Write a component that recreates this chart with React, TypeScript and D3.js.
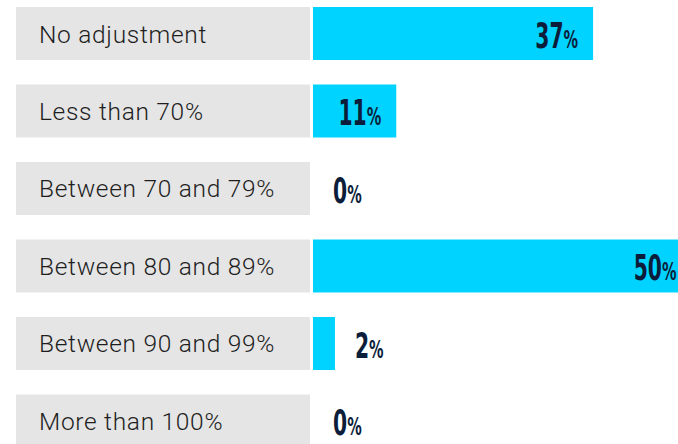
import React from 'react';
import * as d3 from 'd3';

const categories = [
  'No adjustment',
  'Less than 70%',
  'Between 70 and 79%',
  'Between 80 and 89%',
  'Between 90 and 99%',
  'More than 100%',
];
const values = [37, 11, 0, 50, 2.9, 0];
const valueLabels = ['37', '11', '0', '50', '2', '0'];

const W = 678;
const H = 444;

export default function App() {
  const y = d3
    .scaleBand()
    .domain(categories)
    .range([7, 447.5])
    .paddingInner(0.316)
    .paddingOuter(0);

  const x = d3.scaleLinear().domain([0, 50]).range([313, 691.5]);

  // no condensed bold font around, so squeeze DejaVu bold sideways
  const squeeze = 0.58;

  return (
    <div>
      <style>{`body{margin:0}`}</style>
      <svg width={W} height={H} style={{ display: 'block' }}>
        {categories.map((c, i) => {
          const top = y(c) as number;
          const bw = y.bandwidth();
          const end = x(values[i]);
          const inside = end - x(0) > 60;
          const lx = inside ? end - 15 : end + 20;
          return (
            <g key={c}>
              <rect x={16} y={top} width={294} height={bw} fill="#e5e5e5" />
              <text
                x={39}
                y={top + 35.5}
                fontFamily="Roboto, 'Liberation Sans', sans-serif"
                fontWeight={300}
                fontSize={24.5}
                letterSpacing={0.7}
                fill="#1e1e1e"
              >
                {c}
              </text>
              {values[i] > 0 && (
                <rect x={x(0)} y={top} width={end - x(0)} height={bw} fill="#00d3ff" />
              )}
              <text
                transform={`translate(${lx},${top + 40.7}) scale(${squeeze},1)`}
                textAnchor={inside ? 'end' : 'start'}
                fontFamily="'DejaVu Sans', sans-serif"
                fontWeight={700}
                fill="#0b1d3a"
              >
                <tspan fontSize={35}>{valueLabels[i]}</tspan>
                <tspan fontSize={25}>%</tspan>
              </text>
            </g>
          );
        })}
      </svg>
    </div>
  );
}
